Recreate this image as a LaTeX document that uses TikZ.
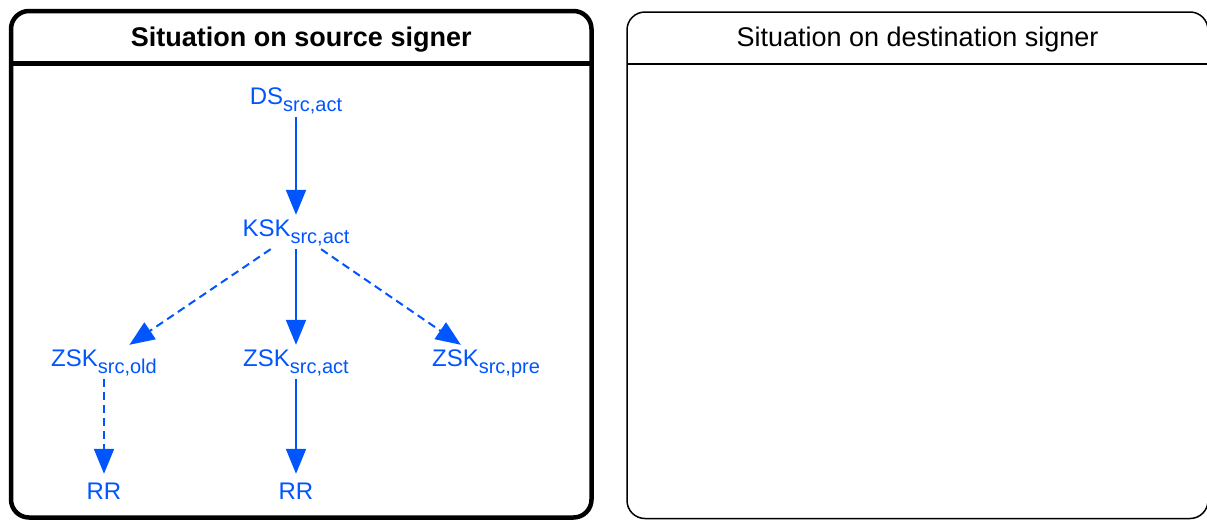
\documentclass[tikz,border=0pt]{standalone}
\usepackage{fontspec}
\setmainfont{Liberation Sans}
\usetikzlibrary{arrows.meta}
\definecolor{keyblue}{RGB}{0,85,255}
% key name with its lowered role subscript
\newcommand{\keylabel}[2]{#1\raisebox{-7pt}{\fontsize{20}{24}\selectfont #2}}

\begin{document}
\begin{tikzpicture}[x=1pt,y=-1pt,
  key/.style={text=keyblue, font=\fontsize{24}{28}\selectfont, inner sep=0pt,
    text height=17pt, text depth=8pt, minimum height=34pt},
  leaf/.style={key, text depth=0pt},
  link/.style={draw=keyblue, line width=2pt, -{Triangle[length=25pt,width=20pt]}},
  pending/.style={link, dash pattern=on 8pt off 5pt},
  title/.style={inner sep=0pt, text height=19.3pt, text depth=0pt,
    font=\fontsize{27}{32}\selectfont},
  panelthick/.style={draw=black, line width=4.5pt, rounded corners=18pt},
  panelthin/.style={draw=black, line width=1.5pt, rounded corners=18pt}
]
\useasboundingbox (0,0) rectangle (1207,520);

% source signer panel
\draw[panelthick] (11,11) rectangle (591.5,517.5);
\draw[line width=4.5pt] (11,63.5) -- (591.5,63.5);
\node[title, font=\fontsize{27}{32}\selectfont\bfseries] (srctitle) at (301.25,36.5) {Situation on source signer};

% destination signer panel
\draw[panelthin] (627,12) rectangle (1208,518.5);
\draw[line width=1.5pt] (627,64) -- (1208,64);
\node[title] (dsttitle) at (917.5,37) {Situation on destination signer};

% key chain on the source signer
\node[key] (ds)     at (296,100) {\keylabel{DS}{src,act}};
\node[key] (ksk)    at (296,232) {\keylabel{KSK}{src,act}};
\node[key] (zskold) at (104,362) {\keylabel{ZSK}{src,old}};
\node[key] (zskact) at (296,362) {\keylabel{ZSK}{src,act}};
\node[key] (zskpre) at (486,362) {\keylabel{ZSK}{src,pre}};
\node[leaf] (rrold) at (104,491) {RR};
\node[leaf] (rract) at (296,491) {RR};

\draw[link] (ds) -- (ksk);
\draw[link] (ksk) -- (zskact);
\draw[pending] (ksk) -- (zskold);
\draw[pending] (ksk) -- (zskpre);
\draw[pending] (zskold) -- (rrold);
\draw[link] (zskact) -- (rract);
\end{tikzpicture}
\end{document}
